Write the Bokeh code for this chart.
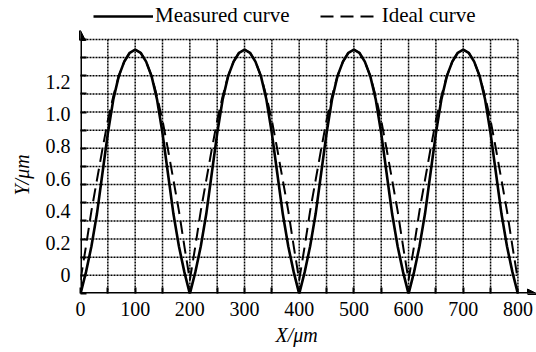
from bokeh.plotting import figure
from bokeh.models import (FixedTicker, LinearAxis, Arrow, NormalHead, Legend,
                          LegendItem, Title, CustomJSTickFormatter)
from bokeh.embed import file_html
from bokeh.resources import INLINE

# ---------------- data ----------------
x_um = list(range(0, 801, 10))

measured_um = [
    -0.115, 0.02, 0.18, 0.38, 0.63, 0.88, 1.09, 1.235, 1.325, 1.38,
    1.40, 1.38, 1.325, 1.235, 1.09, 0.88, 0.63, 0.38, 0.18, 0.02,
    -0.115, 0.02, 0.18, 0.38, 0.63, 0.88, 1.09, 1.235, 1.325, 1.38,
    1.40, 1.38, 1.325, 1.235, 1.09, 0.88, 0.63, 0.38, 0.18, 0.02,
    -0.115, 0.02, 0.18, 0.38, 0.63, 0.88, 1.09, 1.235, 1.325, 1.38,
    1.40, 1.38, 1.325, 1.235, 1.09, 0.88, 0.63, 0.38, 0.18, 0.02,
    -0.115, 0.02, 0.18, 0.38, 0.63, 0.88, 1.09, 1.235, 1.325, 1.38,
    1.40, 1.38, 1.325, 1.235, 1.09, 0.88, 0.63, 0.38, 0.18, 0.02,
    -0.115,
]

ideal_um = [
    -0.03, 0.18, 0.40, 0.59, 0.78, 0.96, 1.11, 1.235, 1.325, 1.38,
    1.40, 1.38, 1.325, 1.235, 1.11, 0.96, 0.78, 0.59, 0.40, 0.18,
    -0.03, 0.18, 0.40, 0.59, 0.78, 0.96, 1.11, 1.235, 1.325, 1.38,
    1.40, 1.38, 1.325, 1.235, 1.11, 0.96, 0.78, 0.59, 0.40, 0.18,
    -0.03, 0.18, 0.40, 0.59, 0.78, 0.96, 1.11, 1.235, 1.325, 1.38,
    1.40, 1.38, 1.325, 1.235, 1.11, 0.96, 0.78, 0.59, 0.40, 0.18,
    -0.03, 0.18, 0.40, 0.59, 0.78, 0.96, 1.11, 1.235, 1.325, 1.38,
    1.40, 1.38, 1.325, 1.235, 1.11, 0.96, 0.78, 0.59, 0.40, 0.18,
    -0.03,
]

x_tick_values = [0, 50, 100, 150, 200, 250, 300, 350, 400, 450, 500, 550, 600, 650, 700, 750, 800]
x_tick_labels = ["0", "", "100", "", "200", "", "300", "", "400", "", "500", "", "600", "", "700", "", "800"]
y_tick_values = [0, 0.2, 0.4, 0.6, 0.8, 1.0, 1.2]
y_tick_labels = ["0", "0.2", "0.4", "0.6", "0.8", "1.0", "1.2"]

series_names = ["Measured curve", "Ideal curve"]
x_title = "X/\u03bcm"
y_title = "Y/\u03bcm"

# ---------------- layout constants ----------------
FONT = "Liberation Serif"
Y_BASE = -0.1125      # level of the x axis
GRID_DY = 0.1125      # spacing of the horizontal grid lines
N_GRID = 14
Y_TOP = Y_BASE + GRID_DY * N_GRID
X_MAX = 800
X_END = 834
Y_END = 1.704

p = figure(width=536, height=352, x_range=(0, X_END), y_range=(Y_BASE, Y_END),
           output_backend="svg", toolbar_location=None,
           min_border_left=80, min_border_right=0, min_border_top=0, min_border_bottom=59)
p.outline_line_color = None
p.xgrid.visible = False
p.ygrid.visible = False
p.background_fill_color = "white"

# dotted grid (bounded to the framed area)
gx = x_tick_values[1:]
p.segment(x0=gx, y0=[Y_BASE] * len(gx), x1=gx, y1=[Y_TOP] * len(gx),
          line_color="black", line_width=1.5, line_dash="2 1")
gy = [round(Y_BASE + GRID_DY * j, 4) for j in range(1, N_GRID + 1)]
p.segment(x0=[0] * len(gy), y0=gy, x1=[X_MAX] * len(gy), y1=gy,
          line_color="black", line_width=1.5, line_dash="2 1")

# curves
r_ideal = p.line(x_um, ideal_um, line_color="black", line_width=2, line_dash="13 7")
r_meas = p.line(x_um, measured_um, line_color="black", line_width=2.6)

# x axis
xa = p.xaxis[0]
xa.ticker = FixedTicker(ticks=x_tick_values)
xa.major_label_overrides = dict(zip(x_tick_values, x_tick_labels))
xa.major_tick_in = 6
xa.major_tick_out = 0
xa.major_tick_line_width = 2
xa.minor_tick_line_color = None
xa.axis_line_color = None
xa.major_label_standoff = 8
xa.major_label_text_font = FONT
xa.major_label_text_font_size = "20px"
xa.major_label_text_color = "black"

# inner y axis: tick marks at the grid lines, no labels
ya = p.yaxis[0]
ya.ticker = FixedTicker(ticks=[Y_BASE] + gy)
ya.formatter = CustomJSTickFormatter(code="return '';")
ya.major_tick_in = 6
ya.major_tick_out = 0
ya.major_tick_line_width = 2
ya.minor_tick_line_color = None
ya.axis_line_color = None
ya.major_label_standoff = 0

# outer y axis: the value labels
yl = LinearAxis(ticker=FixedTicker(ticks=y_tick_values),
                major_label_overrides=dict(zip(y_tick_values, y_tick_labels)),
                major_tick_in=0, major_tick_out=0, minor_tick_line_color=None,
                axis_line_color=None, major_label_standoff=10,
                major_label_text_font=FONT, major_label_text_font_size="20px",
                major_label_text_color="black")
p.add_layout(yl, "left")

# axis titles
p.add_layout(Title(text=y_title, align="left", offset=98, vertical_align="top",
                   standoff=16, text_font=FONT, text_font_size="20px",
                   text_font_style="italic", text_color="black"), "left")
p.add_layout(Title(text=x_title, align="left", offset=195, vertical_align="top",
                   standoff=10, text_font=FONT, text_font_size="20px",
                   text_font_style="italic", text_color="black"), "below")

# axis lines with arrow heads
p.add_layout(Arrow(end=NormalHead(size=10, fill_color="black", line_color="black"),
                   x_start=0, y_start=Y_BASE, x_end=0, y_end=1.518,
                   line_width=3, line_color="black"))
p.add_layout(Arrow(end=NormalHead(size=9, fill_color="black", line_color="black"),
                   x_start=0, y_start=Y_BASE, x_end=X_END, y_end=Y_BASE,
                   line_width=3, line_color="black"))

# legend
legend = Legend(items=[LegendItem(label=series_names[0], renderers=[r_meas]),
                       LegendItem(label=series_names[1], renderers=[r_ideal])],
                orientation="horizontal", location=(13, 265),
                glyph_width=60, glyph_height=20, label_height=20, label_standoff=2,
                spacing=30, padding=0, margin=0, border_line_color=None,
                background_fill_alpha=0, label_text_font=FONT,
                label_text_font_size="21px", label_text_color="black")
p.add_layout(legend)

open("out.html", "w").write(file_html(p, INLINE))
